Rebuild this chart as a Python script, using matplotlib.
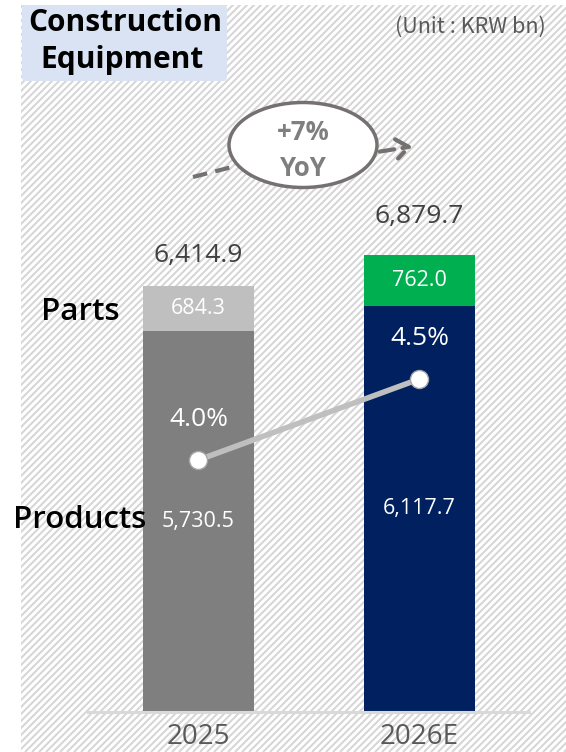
import matplotlib
matplotlib.use("Agg")
import matplotlib.pyplot as plt
from matplotlib.patches import Ellipse, FancyBboxPatch, FancyArrowPatch
from matplotlib.lines import Line2D
from matplotlib.collections import LineCollection
import numpy as np

# ---- data (KRW bn) ----
years = ["2025", "2026E"]
products = [5730.5, 6117.7]
parts = [684.3, 762.0]
totals = [6414.9, 6879.7]
margin_pct = [4.0, 4.5]
yoy_lines = ["+7%", "YoY"]

prod_colors = ["#7f7f7f", "#002060"]
part_colors = ["#bfbfbf", "#00b050"]

KR = "Noto Sans CJK KR"
SANS = "Open Sans"

W, H = 566, 752
fig = plt.figure(figsize=(W / 100, H / 100), dpi=100)
fig.patch.set_facecolor("white")


def fx(x):
    return x / W


def fy(y):
    return 1 - y / H


# ---- diagonal striped background ----
bg = fig.add_axes([fx(21), 0, 1 - fx(21), fy(5)])
bg.set_xlim(0, W - 21)
bg.set_ylim(0, H - 5)
bg.axis("off")
segs = []
step = 7.0
for c in np.arange(-H, W + H, step):
    segs.append([(c, 0), (c + H, H)])
bg.add_collection(LineCollection(segs, colors="#d6d6d6", linewidths=1.45))

# ---- title box ----
fig.add_artist(FancyBboxPatch((fx(22), fy(81)), fx(227) - fx(22), fy(5) - fy(81),
                              boxstyle="round,pad=0,rounding_size=0.006",
                              transform=fig.transFigure, facecolor="#dae3f3",
                              edgecolor="none", zorder=2))
fig.text(fx(125), fy(23), "Construction", ha="center", va="center",
         fontsize=21.5, fontweight="bold", family=SANS, color="black", zorder=3)
fig.text(fx(122), fy(60), "Equipment", ha="center", va="center",
         fontsize=21.5, fontweight="bold", family=SANS, color="black", zorder=3)
fig.text(fx(546), fy(27), "(Unit : KRW bn)", ha="right", va="center",
         fontsize=15.5, family=KR, color="#595959")

# ---- main bar axes ----
ax = fig.add_axes([fx(88), 1 - 712 / H, fx(529) - fx(88), (712 - 5) / H])
ax.set_facecolor("none")
x = np.arange(len(years))
bw = 0.502
ax.bar(x, products, width=bw, color=prod_colors, zorder=2)
ax.bar(x, parts, width=bw, bottom=products, color=part_colors, zorder=2)
ax.set_xlim(-0.5, 1.4955)
ax.set_ylim(0, 10646)
for s in ["top", "left", "right"]:
    ax.spines[s].set_visible(False)
ax.spines["bottom"].set_color("#d9d9d9")
ax.spines["bottom"].set_linewidth(2.2)
ax.set_yticks([])
ax.set_xticks(x)
ax.set_xticklabels(years, fontsize=20, color="#595959", family=SANS)
ax.tick_params(axis="x", length=0, pad=8)

for i in range(len(years)):
    ax.text(x[i], products[i] / 2, f"{products[i]:,.1f}", ha="center", va="center",
            fontsize=15.5, color="white", family=SANS, zorder=4)
    ax.text(x[i], products[i] + parts[i] / 2, f"{parts[i]:,.1f}", ha="center",
            va="center", fontsize=15.5, color="white", family=SANS, zorder=4)

total_offsets = [30, 39]
for i in range(len(years)):
    ax.annotate(f"{totals[i]:,.1f}", (x[i], totals[i]), xytext=(0, total_offsets[i] * 0.72),
                textcoords="offset points", ha="center", va="center",
                fontsize=19, color="#404040", family=SANS)

# ---- operating margin line ----
ax2 = ax.twinx()
ax2.set_ylim(2.444, 6.809)
ax2.axis("off")
ax2.plot(x, margin_pct, color="#bfbfbf", lw=4, zorder=3, solid_capstyle="butt")
ax2.plot(x, margin_pct, "o", ms=13, mfc="white", mec="#a6a6a6", mew=1.0, zorder=4)
for i in range(len(years)):
    ax2.annotate(f"{margin_pct[i]:.1f}%", (x[i], margin_pct[i]), xytext=(0, 40 * 0.72),
                 textcoords="offset points", ha="center", va="center",
                 fontsize=19, color="white", family=SANS)

# ---- segment labels ----
fig.text(fx(80), fy(312), "Parts", ha="center", va="center", fontsize=22.5,
         family=SANS, fontweight="semibold", color="black")
fig.text(fx(80), fy(520), "Products", ha="center", va="center", fontsize=22.5,
         family=SANS, fontweight="semibold", color="black")

# ---- YoY growth callout ----
arrow_col = "#767171"
fig.add_artist(Line2D([fx(193), fx(232)], [fy(177), fy(167)], transform=fig.transFigure,
                      color=arrow_col, lw=3, dashes=(3.5, 2), zorder=5))
fig.add_artist(FancyArrowPatch((fx(377), fy(152)), (fx(415), fy(146)),
                               transform=fig.transFigure,
                               arrowstyle="->,head_length=9,head_width=7",
                               color=arrow_col, lw=3, linestyle=(0, (3.5, 2)), zorder=5))
fig.add_artist(Ellipse((fx(303), fy(145)), fx(148), 85 / H, transform=fig.transFigure,
                       facecolor="white", edgecolor=arrow_col, lw=2.5, zorder=6))
for line, yy in zip(yoy_lines, [132, 168]):
    fig.text(fx(303), fy(yy), line, ha="center", va="center", fontsize=18.5,
             fontweight="bold", family=SANS, color="#7f7f7f", zorder=7)

fig.savefig("out.png", dpi=100)
